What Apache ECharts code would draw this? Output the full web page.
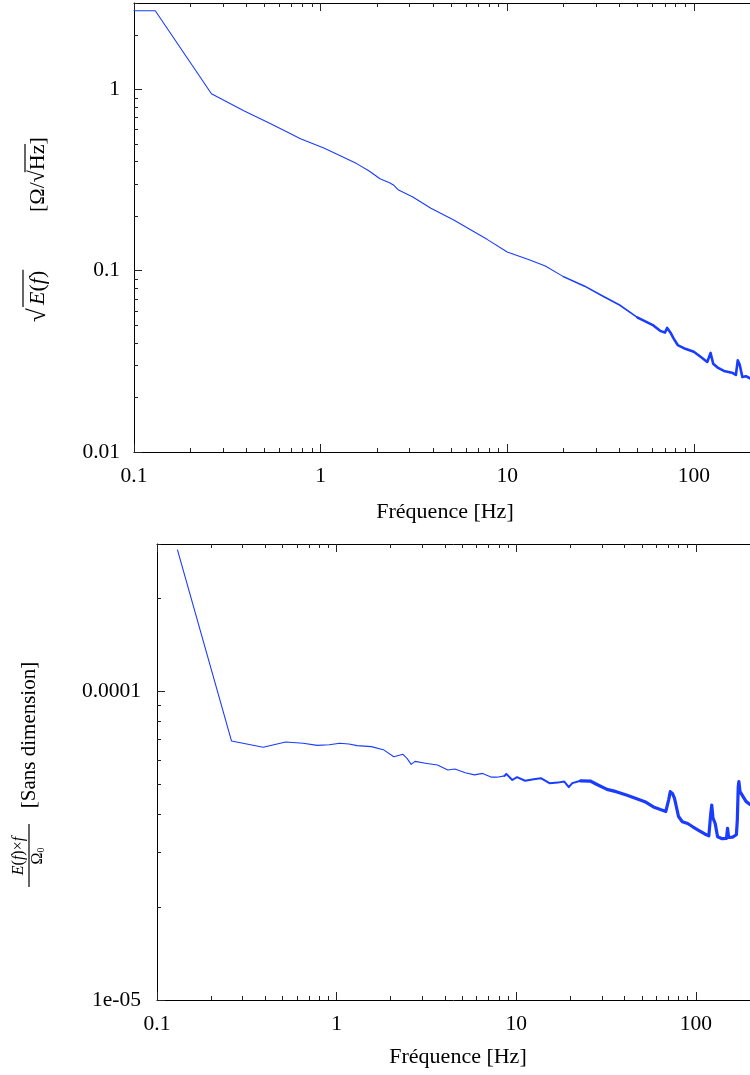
<!DOCTYPE html>
<html><head><meta charset="utf-8">
<script src="https://cdn.jsdelivr.net/npm/echarts@6/dist/echarts.min.js"></script>
<style>html,body{margin:0;padding:0;background:#fff}#c{width:750px;height:1075px}</style>
</head><body><div id="c"></div>
<script>
// ---------- data ----------
const freqTop = [0.1, 0.13, 0.26, 0.39, 0.52, 0.65, 0.78, 1.04, 1.3, 1.56,
  1.82, 2.08, 2.34, 2.47, 2.6, 3.12, 3.9, 5.2, 6.5, 7.8,
  10, 13, 16, 20, 26, 33, 40, 50, 60, 66,
  70, 72, 75, 78, 82, 90, 100, 110, 118, 123,
  127, 135, 145, 160, 168, 172, 176, 182, 190, 200];
const ampTop = [2.72, 2.72, 0.947, 0.761, 0.660, 0.589, 0.535, 0.475, 0.427, 0.390,
  0.355, 0.322, 0.306, 0.296, 0.280, 0.255, 0.221, 0.190, 0.166, 0.149,
  0.127, 0.1155, 0.1062, 0.0928, 0.0822, 0.0719, 0.0647, 0.0551, 0.0503, 0.0466,
  0.0456, 0.0484, 0.0455, 0.0422, 0.0389, 0.0371, 0.0357, 0.0332, 0.0314, 0.0352,
  0.0307, 0.0291, 0.0280, 0.0274, 0.0266, 0.0321, 0.0304, 0.0259, 0.0262, 0.0255];

const freqBot = [0.13, 0.26, 0.39, 0.52, 0.65, 0.78, 0.91, 1.04, 1.17, 1.3,
  1.56, 1.82, 2.08, 2.34, 2.47, 2.6, 2.73, 3.12, 3.64, 4.16,
  4.55, 5.2, 5.85, 6.5, 7.28, 7.8, 8.6, 8.8, 9.5, 10.1,
  11.2, 12.5, 13.7, 15.3, 17, 18.5, 19.6, 20.5, 22.8, 25.8,
  28.5, 32, 36, 41, 46, 52, 58, 64, 68, 70.5,
  72, 74, 76, 77.5, 80, 84, 90, 96, 104, 112,
  118, 121, 122.5, 124.5, 128, 132, 140, 148, 150, 152,
  160, 168, 170, 172, 173.5, 176, 180, 190, 200];
const valBot = [2.87e-4, 6.9e-5, 6.59e-5, 6.85e-5, 6.79e-5, 6.68e-5, 6.71e-5, 6.79e-5, 6.75e-5, 6.67e-5,
  6.62e-5, 6.47e-5, 6.14e-5, 6.25e-5, 6.05e-5, 5.80e-5, 5.93e-5, 5.85e-5, 5.77e-5, 5.56e-5,
  5.60e-5, 5.45e-5, 5.36e-5, 5.42e-5, 5.27e-5, 5.27e-5, 5.32e-5, 5.40e-5, 5.16e-5, 5.27e-5,
  5.13e-5, 5.19e-5, 5.23e-5, 5.04e-5, 5.06e-5, 5.10e-5, 4.89e-5, 5.04e-5, 5.13e-5, 5.12e-5,
  4.97e-5, 4.81e-5, 4.73e-5, 4.61e-5, 4.50e-5, 4.39e-5, 4.22e-5, 4.13e-5, 4.08e-5, 4.45e-5,
  4.73e-5, 4.67e-5, 4.50e-5, 4.45e-5, 3.93e-5, 3.78e-5, 3.73e-5, 3.64e-5, 3.54e-5, 3.45e-5,
  3.40e-5, 4.03e-5, 4.28e-5, 3.88e-5, 3.73e-5, 3.38e-5, 3.33e-5, 3.34e-5, 3.6e-5, 3.36e-5,
  3.37e-5, 3.43e-5, 3.83e-5, 4.91e-5, 5.1e-5, 4.73e-5, 4.67e-5, 4.4e-5, 4.3e-5];

// tick values and labels
const xMajor = [0.1, 1, 10, 100];
const xMajorLabels = ['0.1', '1', '10', '100'];
const xMinor = [0.2,0.3,0.4,0.5,0.6,0.7,0.8,0.9, 2,3,4,5,6,7,8,9, 20,30,40,50,60,70,80,90, 200];
const yTopMajor = [0.01, 0.1, 1];
const yTopLabels = ['0.01', '0.1', '1'];
const yTopMinor = [0.02,0.03,0.04,0.05,0.06,0.07,0.08,0.09, 0.2,0.3,0.4,0.5,0.6,0.7,0.8,0.9, 2, 3];
const yBotMajor = [1e-5, 1e-4];
const yBotLabels = ['1e-05', '0.0001'];
const yBotMinor = [2e-5,3e-5,4e-5,5e-5,6e-5,7e-5,8e-5,9e-5, 2e-4, 3e-4];
const xTitle = 'Fréquence [Hz]';

const xRange = [0.1, 200];
const yTopRange = [0.01, 3];
const yBotRange = [1e-5, 3e-4];

// ---------- style ----------
const BLUE = '#1a3cff';
const FONT = 'Liberation Serif';
const LABEL_SIZE = 21.5;

function fmt(ticks, texts) {
  return function (v) {
    for (let i = 0; i < ticks.length; i++) {
      if (Math.abs(Math.log10(ticks[i]) - Math.log10(v)) < 1e-6) return texts[i];
    }
    return '';
  };
}

function axisCommon(range) {
  return { type: 'log', logBase: 10, min: range[0], max: range[1], splitLine: { show: false }, minorTick: { show: false }, minorSplitLine: { show: false } };
}

function xAx(grid, pos, range, ticks, len, labels, showLine) {
  return Object.assign(axisCommon(range), {
    gridIndex: grid, position: pos,
    axisLine: { show: showLine, onZero: false, lineStyle: { color: '#000', width: 1 } },
    axisTick: { show: true, inside: true, length: len, customValues: ticks, lineStyle: { color: '#222', width: 1 } },
    axisLabel: labels ? { show: true, customValues: ticks, formatter: fmt(ticks, labels), margin: 13, color: '#000', fontFamily: FONT, fontSize: LABEL_SIZE } : { show: false }
  });
}
function yAx(grid, pos, range, ticks, len, labels, margin, showLine) {
  return Object.assign(axisCommon(range), {
    gridIndex: grid, position: pos,
    axisLine: { show: showLine, onZero: false, lineStyle: { color: '#000', width: 1 } },
    axisTick: { show: true, inside: true, length: len, customValues: ticks, lineStyle: { color: '#222', width: 1 } },
    axisLabel: labels ? { show: true, customValues: ticks, formatter: fmt(ticks, labels), margin: margin, color: '#000', fontFamily: FONT, fontSize: LABEL_SIZE } : { show: false }
  });
}

function segments(fs, vs, breaks, widths, xi, yi) {
  const out = [];
  for (let s = 0; s < widths.length; s++) {
    const data = [];
    for (let i = 0; i < fs.length; i++) {
      if (fs[i] >= breaks[s] && fs[i] <= breaks[s + 1]) data.push([fs[i], vs[i]]);
    }
    out.push({ type: 'line', xAxisIndex: xi, yAxisIndex: yi, data: data, symbol: 'none', showSymbol: false,
      clip: true, silent: true, animation: false, lineStyle: { color: BLUE, width: widths[s], join: 'round', cap: 'round' } });
  }
  return out;
}

const gTop = { left: 134, top: 3, right: -7, bottom: 1075 - 452 };
const gBot = { left: 157, top: 544, right: -9, bottom: 75 };

const option = {
  animation: false,
  backgroundColor: '#fff',
  textStyle: { fontFamily: FONT, color: '#000' },
  grid: [
    Object.assign({}, gTop), Object.assign({}, gTop),
    Object.assign({}, gBot), Object.assign({}, gBot)
  ],
  xAxis: [
    xAx(0, 'bottom', xRange, xMajor, 8, xMajorLabels, true),
    xAx(0, 'top', xRange, xMajor, 8, null, true),
    xAx(1, 'bottom', xRange, xMinor, 4, null, false),
    xAx(1, 'top', xRange, xMinor, 4, null, false),
    xAx(2, 'bottom', xRange, xMajor, 8, xMajorLabels, true),
    xAx(2, 'top', xRange, xMajor, 8, null, true),
    xAx(3, 'bottom', xRange, xMinor, 4, null, false),
    xAx(3, 'top', xRange, xMinor, 4, null, false)
  ],
  yAxis: [
    yAx(0, 'left', yTopRange, yTopMajor, 8, yTopLabels, 14, true),
    yAx(1, 'left', yTopRange, yTopMinor, 4, null, 0, false),
    yAx(2, 'left', yBotRange, yBotMajor, 8, yBotLabels, 16, true),
    yAx(3, 'left', yBotRange, yBotMinor, 4, null, 0, false)
  ],
  series: [].concat(
    segments(freqTop, ampTop, [0, 20, 50, 1e9], [1.1, 1.6, 2.6], 0, 0),
    segments(freqBot, valBot, [0, 8.6, 22.8, 1e9], [1.1, 2.0, 3.2], 4, 2)
  ),
  graphic: []
};

// x-axis titles, centred under each (partly cropped) plot frame
option.graphic.push(
  { type: 'text', x: 445, y: 512, silent: true, style: { text: xTitle, fontFamily: FONT, fontSize: 22, fill: '#000', align: 'center', verticalAlign: 'middle' } },
  { type: 'text', x: 458, y: 1057, silent: true, style: { text: xTitle, fontFamily: FONT, fontSize: 22, fill: '#000', align: 'center', verticalAlign: 'middle' } }
);

// ---------- rotated y-axis titles (text + drawn radical bars / fraction bar) ----------
const mctx = document.createElement('canvas').getContext('2d');
function tw(str, size, style) { mctx.font = (style || '') + ' ' + size + 'px "' + FONT + '"'; return mctx.measureText(str).width; }

const T = 22;
const richE = { i: { fontStyle: 'italic', fontFamily: FONT, fontSize: T, fill: '#000' }, r: { fontFamily: FONT, fontSize: T, fill: '#000' } };
const eStart = 17;
const wE = tw('E', T, 'italic') + tw('(', T) + tw('f', T, 'italic') + tw(')', T);
const unitStart = 110;
const wPre = tw('[Ω/√', T);
const wHz = tw('Hz', T);

option.graphic.push({
  type: 'group', x: 40, y: 322, rotation: Math.PI / 2, silent: true,
  children: [
    { type: 'text', x: 0, y: -2, style: { text: '√', fontFamily: FONT, fontSize: 25, fill: '#000', align: 'left', verticalAlign: 'middle' } },
    { type: 'text', x: eStart, y: -2, style: { text: '{i|E}{r|(}{i|f}{r|)}', rich: richE, fontFamily: FONT, fontSize: T, fill: '#000', align: 'left', verticalAlign: 'middle' } },
    { type: 'line', shape: { x1: eStart - 2, y1: -17, x2: eStart + wE + 1, y2: -17 }, style: { stroke: '#000', lineWidth: 1.2 } },
    { type: 'text', x: unitStart, y: -2, style: { text: '[Ω/√Hz]', fontFamily: FONT, fontSize: T, fill: '#000', align: 'left', verticalAlign: 'middle' } },
    { type: 'line', shape: { x1: unitStart + wPre - 2, y1: -15, x2: unitStart + wPre + wHz + 0.5, y2: -15 }, style: { stroke: '#000', lineWidth: 1.2 } }
  ]
});

const F = 16;
const richN = { i: { fontStyle: 'italic', fontFamily: FONT, fontSize: F, fill: '#000' }, r: { fontFamily: FONT, fontSize: F, fill: '#000' }, s: { fontFamily: FONT, fontSize: 10, fill: '#000', verticalAlign: 'bottom' } };
option.graphic.push({
  type: 'group', x: 30, y: 887, rotation: Math.PI / 2, silent: true,
  children: [
    { type: 'text', x: 31, y: -11, style: { text: '{i|E}{r|(}{i|f}{r|)×}{i|f}', rich: richN, fontFamily: FONT, fontSize: F, fill: '#000', align: 'center', verticalAlign: 'middle' } },
    { type: 'line', shape: { x1: 0, y1: -1, x2: 63, y2: -1 }, style: { stroke: '#000', lineWidth: 1.2 } },
    { type: 'text', x: 31, y: 8, style: { text: '{r|Ω}{s|0}', rich: richN, fontFamily: FONT, fontSize: F, fill: '#000', align: 'center', verticalAlign: 'middle' } },
    { type: 'text', x: 152, y: -1, style: { text: '[Sans dimension]', fontFamily: FONT, fontSize: 21, fill: '#000', align: 'center', verticalAlign: 'middle' } }
  ]
});

const chart = echarts.init(document.getElementById('c'), null, { renderer: 'canvas' });
chart.setOption(option);
</script>
</body></html>
